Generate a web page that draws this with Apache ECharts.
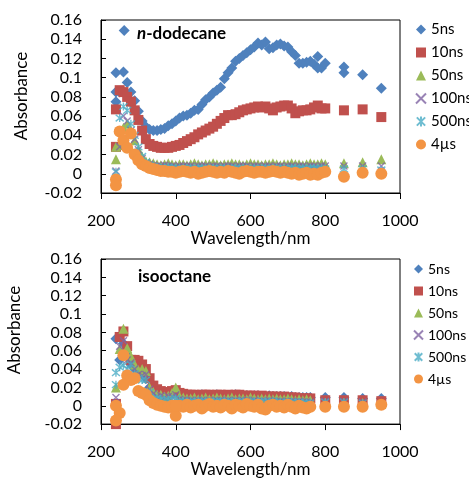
<!DOCTYPE html>
<html>
<head>
<meta charset="utf-8">
<script src="https://cdn.jsdelivr.net/npm/echarts@6/dist/echarts.min.js"></script>
<style>html,body{margin:0;padding:0;background:#fff}#c{width:469px;height:479px}</style>
</head>
<body>
<div id="c"></div>
<script>
// ---------- data ----------
const seriesNames = ['5ns', '10ns', '50ns', '100ns', '500ns', '4µs'];
const yTicks = [-0.02, 0, 0.02, 0.04, 0.06, 0.08, 0.1, 0.12, 0.14, 0.16];
const xTicks = [200, 400, 600, 800, 1000];

// n-dodecane
const wlDodecane = [240,250,260,270,280,290,300,310,320,330,340,350,360,370,380,390,400,410,420,430,440,450,460,470,480,490,500,510,520,530,540,550,560,570,580,590,600,610,620,630,640,650,660,670,680,690,700,710,720,730,740,750,760,770,780,790,800,850,900,950];
const dod5ns = [0.105,0.085,0.106,0.095,0.085,0.076,0.065,0.055,0.049,0.046,
  0.045,0.045,0.046,0.047,0.050,0.052,0.055,0.058,0.060,0.061,
  0.063,0.066,0.067,0.072,0.077,0.080,0.084,0.087,0.090,0.099,
  0.105,0.110,0.117,0.120,0.123,0.126,0.129,0.132,0.136,0.134,
  0.137,0.130,0.131,0.134,0.135,0.133,0.132,0.127,0.123,0.115,
  0.115,0.116,0.117,0.114,0.122,0.110,0.115,
  0.111,0.103,0.089];
const dod10ns = [0.067,0.087,0.085,0.080,0.075,0.066,0.056,0.045,0.036,0.031,
  0.029,0.028,0.027,0.027,0.027,0.028,0.029,0.030,0.032,0.034,
  0.036,0.038,0.041,0.043,0.045,0.047,0.049,0.052,0.055,0.058,
  0.061,0.061,0.062,0.064,0.066,0.067,0.068,0.069,0.070,0.069,
  0.070,0.068,0.066,0.069,0.070,0.071,0.071,0.068,0.063,0.065,
  0.066,0.066,0.067,0.069,0.071,0.068,0.068,
  0.066,0.067,0.059];
const dod50ns = [0.015,0.030,0.048,0.052,0.045,0.035,0.025,0.018,0.013,0.012,
  0.011,0.010,0.009,0.010,0.011,0.010,0.009,0.010,0.010,0.009,
  0.010,0.011,0.010,0.009,0.010,0.010,0.011,0.010,0.009,0.010,
  0.010,0.011,0.010,0.010,0.009,0.010,0.011,0.010,0.010,0.009,
  0.010,0.010,0.011,0.010,0.009,0.010,0.010,0.011,0.010,0.010,
  0.009,0.010,0.011,0.010,0.010,0.011,0.010,
  0.011,0.012,0.015];
const dod100ns = [0.003,0.028,0.060,0.055,0.045,0.036,0.025,0.016,0.011,0.010,
  0.009,0.008,0.008,0.009,0.008,0.008,0.007,0.008,0.008,0.008,
  0.008,0.007,0.008,0.008,0.008,0.007,0.008,0.008,0.007,0.008,
  0.008,0.008,0.007,0.008,0.008,0.008,0.007,0.008,0.008,0.007,
  0.008,0.008,0.007,0.008,0.008,0.007,0.008,0.008,0.007,0.008,
  0.008,0.007,0.008,0.008,0.007,0.008,0.008,
  0.008,0.008,0.008];
const dod500ns = [0.002,0.058,0.070,0.066,0.052,0.040,0.028,0.018,0.012,0.009,
  0.007,0.007,0.006,0.006,0.007,0.006,0.006,0.005,0.006,0.006,
  0.006,0.005,0.006,0.006,0.005,0.006,0.006,0.005,0.006,0.006,
  0.005,0.006,0.006,0.005,0.006,0.006,0.005,0.006,0.005,0.006,
  0.006,0.005,0.006,0.006,0.005,0.006,0.005,0.006,0.006,0.005,
  0.006,0.005,0.006,0.006,0.005,0.006,0.005,
  0.005,0.005,0.004];
const dod4us = [-0.006,0.044,0.035,0.027,0.042,0.020,0.014,0.010,0.008,0.006,
  0.005,0.004,0.003,0.003,0.002,0.002,0.001,0.002,0.003,0.002,
  0.001,0.002,0.000,0.001,0.002,0.003,0.002,0.001,0.002,0.001,
  0.003,0.002,0.001,0.000,0.002,0.003,0.002,0.001,0.002,0.002,
  0.001,0.002,0.003,0.002,0.001,0.002,0.001,0.000,0.001,-0.001,
  0.000,0.001,-0.001,0.000,-0.001,0.001,0.002,
  -0.003,0.001,0.000];
// second-run points in the dodecane panel: [wavelength, absorbance]
const dodExtra5ns = [[240,0.085],[240,0.075],[262,0.149],[780,0.110],[850,0.105]];
const dodExtra10ns = [[240,0.028]];
const dodExtra50ns = [[240,0.028]];
const dodExtra4us = [[240,-0.012]];

// isooctane
const wlIsooctane = [240,250,260,270,280,290,300,310,320,330,340,350,360,370,380,390,400,410,420,430,440,450,460,470,480,490,500,510,520,530,540,550,560,570,580,590,600,610,620,630,640,650,660,670,680,690,700,710,720,730,740,750,760,800,850,900,950];
const iso5ns = [0.073,0.050,0.068,0.055,0.045,0.040,0.038,0.035,0.030,0.020,
  0.015,0.014,0.013,0.013,0.012,0.013,0.014,0.012,0.011,0.011,
  0.011,0.011,0.011,0.012,0.011,0.011,0.011,0.012,0.011,0.011,
  0.011,0.011,0.012,0.011,0.011,0.011,0.010,0.011,0.011,0.010,
  0.010,0.011,0.010,0.010,0.010,0.010,0.009,0.010,0.009,0.009,
  0.009,0.009,0.009,
  0.009,0.009,0.008,0.008];
const iso10ns = [-0.020,0.075,0.081,0.065,0.050,0.050,0.049,0.045,0.040,0.030,
  0.022,0.018,0.016,0.015,0.015,0.016,0.017,0.014,0.013,0.012,
  0.012,0.012,0.011,0.012,0.012,0.012,0.011,0.012,0.012,0.011,
  0.012,0.011,0.012,0.012,0.011,0.011,0.011,0.011,0.010,0.011,
  0.010,0.010,0.010,0.010,0.009,0.010,0.009,0.009,0.009,0.008,
  0.008,0.008,0.008,
  0.006,0.006,0.006,0.005];
const iso50ns = [0.020,0.062,0.084,0.063,0.054,0.045,0.039,0.040,0.038,0.020,
  0.015,0.012,0.012,0.010,0.011,0.014,0.020,0.010,0.009,0.008,
  0.008,0.009,0.007,0.008,0.009,0.007,0.008,0.009,0.008,0.007,
  0.008,0.009,0.007,0.008,0.008,0.007,0.009,0.008,0.007,0.008,
  0.007,0.008,0.007,0.008,0.007,0.007,0.008,0.007,0.006,0.007,
  0.006,0.007,0.006,
  0.003,0.003,0.003,0.002];
const iso100ns = [0.009,0.065,0.071,0.050,0.047,0.040,0.034,0.033,0.034,0.018,
  0.013,0.010,0.011,0.009,0.010,0.010,0.012,0.007,0.006,0.006,
  0.006,0.005,0.006,0.006,0.005,0.006,0.005,0.006,0.006,0.005,
  0.006,0.005,0.006,0.005,0.006,0.006,0.005,0.006,0.005,0.005,
  0.005,0.006,0.005,0.005,0.005,0.004,0.005,0.005,0.004,0.005,
  0.004,0.004,0.004,
  0.005,0.005,0.004,0.002];
const iso500ns = [0.036,0.042,0.044,0.040,0.045,0.035,0.030,0.028,0.028,0.015,
  0.008,0.008,0.007,0.006,0.006,0.007,0.008,0.005,0.005,0.004,
  0.005,0.004,0.005,0.005,0.004,0.005,0.004,0.005,0.005,0.004,
  0.005,0.004,0.005,0.004,0.005,0.004,0.005,0.004,0.004,0.005,
  0.004,0.004,0.005,0.004,0.004,0.003,0.004,0.004,0.003,0.004,
  0.003,0.003,0.003,
  0.004,0.004,0.003,0.001];
const iso4us = [0.000,-0.008,0.055,0.033,0.028,0.030,0.016,0.014,0.012,0.006,
  0.003,0.001,0.000,-0.001,-0.002,0.000,-0.011,0.000,-0.001,0.001,
  -0.002,0.000,0.001,-0.003,0.000,0.002,-0.001,0.000,-0.002,0.001,
  0.000,-0.003,0.001,0.000,-0.002,0.002,0.000,-0.001,0.001,-0.003,
  -0.004,0.000,0.001,-0.001,0.000,-0.002,0.001,-0.001,-0.003,0.000,
  -0.002,-0.003,-0.001,
  -0.001,-0.001,-0.001,0.001];
const isoExtra10ns = [[240,0.002]];
const isoExtra500ns = [[240,0.023]];
const isoExtra4us = [[240,-0.016],[260,0.023],[400,0.000]];

// ---------- chart ----------
const FONT = 'Lato, "Liberation Sans", sans-serif';
const styles = {
  '5ns':   {symbol: 'diamond', size: 11, color: '#4F81BD'},
  '10ns':  {symbol: 'rect', size: 10, color: '#C0504D'},
  '50ns':  {symbol: 'triangle', size: 10, color: '#9BBB59'},
  '100ns': {symbol: 'path://M0,0L10,10M10,0L0,10', size: 7, color: '#8064A2', line: true},
  '500ns': {symbol: 'path://M0,0L10,10M10,0L0,10M5,-1L5,11', size: 8, color: '#4BACC6', line: true},
  '4µs':   {symbol: 'circle', size: 12, color: '#F39443'}
};

function pairs(wl, vals, extra) {
  const d = wl.map((w, i) => [w, vals[i]]);
  return extra ? d.concat(extra) : d;
}

const panels = [
  {wl: wlDodecane, vals: [dod5ns, dod10ns, dod50ns, dod100ns, dod500ns, dod4us],
   extra: [dodExtra5ns, dodExtra10ns, dodExtra50ns, null, null, dodExtra4us]},
  {wl: wlIsooctane, vals: [iso5ns, iso10ns, iso50ns, iso100ns, iso500ns, iso4us],
   extra: [null, isoExtra10ns, null, null, isoExtra500ns, isoExtra4us]}
];

const series = [];
panels.forEach((p, pi) => {
  seriesNames.forEach((name, si) => {
    const st = styles[name];
    series.push({
      type: 'scatter', name: name, xAxisIndex: pi, yAxisIndex: pi,
      symbol: st.symbol, symbolSize: st.size, clip: false,
      itemStyle: st.line ? {color: st.color, borderColor: st.color, borderWidth: 1.4}
                         : {color: st.color, opacity: 1},
      emphasis: {disabled: true},
      data: pairs(p.wl, p.vals[si], p.extra[si])
    });
  });
});

function xAxis(gi) {
  return {
    type: 'value', gridIndex: gi, min: xTicks[0], max: xTicks[xTicks.length - 1], interval: 200,
    name: 'Wavelength/nm', nameLocation: 'middle', nameGap: 36,
    nameTextStyle: {fontFamily: FONT, fontSize: 17, color: '#000'},
    axisLine: {show: true, onZero: false, lineStyle: {color: '#000', width: 1}},
    axisTick: {show: true, inside: false, length: 6, lineStyle: {color: '#000'}},
    axisLabel: {fontFamily: FONT, fontSize: 16, color: '#000', margin: 20,
                formatter: v => String(v)},
    splitLine: {show: false}
  };
}
function yAxis(gi) {
  return {
    type: 'value', gridIndex: gi, min: yTicks[0], max: yTicks[yTicks.length - 1], interval: 0.02,
    axisLine: {show: true, onZero: false, lineStyle: {color: '#000', width: 1}},
    axisTick: {show: true, inside: true, length: 5, lineStyle: {color: '#000'}},
    axisLabel: {fontFamily: FONT, fontSize: 16, color: '#000', margin: 19},
    splitLine: {show: false}
  };
}
function legend(top, h, gap, fs, left) {
  return {
    orient: 'vertical', left: left, top: top, data: seriesNames,
    itemWidth: h, itemHeight: h, itemGap: gap, padding: 0, selectedMode: false,
    textStyle: {fontFamily: FONT, fontSize: fs, color: '#000', lineHeight: h}
  };
}

const chart = echarts.init(document.getElementById('c'), null, {renderer: 'canvas'});
chart.setOption({
  backgroundColor: '#fff',
  animation: false,
  grid: [
    {left: 101, top: 20, width: 299, height: 173, show: true, borderColor: '#000', borderWidth: 1, backgroundColor: 'transparent'},
    {left: 101, top: 259, width: 299, height: 168, show: true, borderColor: '#000', borderWidth: 1, backgroundColor: 'transparent'}
  ],
  xAxis: [xAxis(0), xAxis(1)],
  yAxis: [yAxis(0), yAxis(1)],
  legend: [legend(22, 10, 8, 15, 415), legend(262, 9, 8, 14, 413)],
  title: [
    {text: '{i|n}{b|-dodecane}', left: 137, top: 25, padding: 0,
     textStyle: {rich: {i: {fontFamily: FONT, fontSize: 17, fontStyle: 'italic', fontWeight: 'bold', color: '#000'},
                        b: {fontFamily: FONT, fontSize: 17, fontWeight: 'bold', color: '#000'}}}},
    {text: 'isooctane', left: 138, top: 268, padding: 0,
     textStyle: {fontFamily: FONT, fontSize: 17, fontWeight: 'bold', color: '#000'}}
  ],
  graphic: [
    {type: 'text', x: 22, y: 96, rotation: Math.PI / 2,
     style: {text: 'Absorbance', fontFamily: FONT, fontSize: 17, fill: '#000', align: 'center', verticalAlign: 'middle'}},
    {type: 'text', x: 15, y: 330, rotation: Math.PI / 2,
     style: {text: 'Absorbance', fontFamily: FONT, fontSize: 17, fill: '#000', align: 'center', verticalAlign: 'middle'}}
  ],
  series: series
});
</script>
</body>
</html>
